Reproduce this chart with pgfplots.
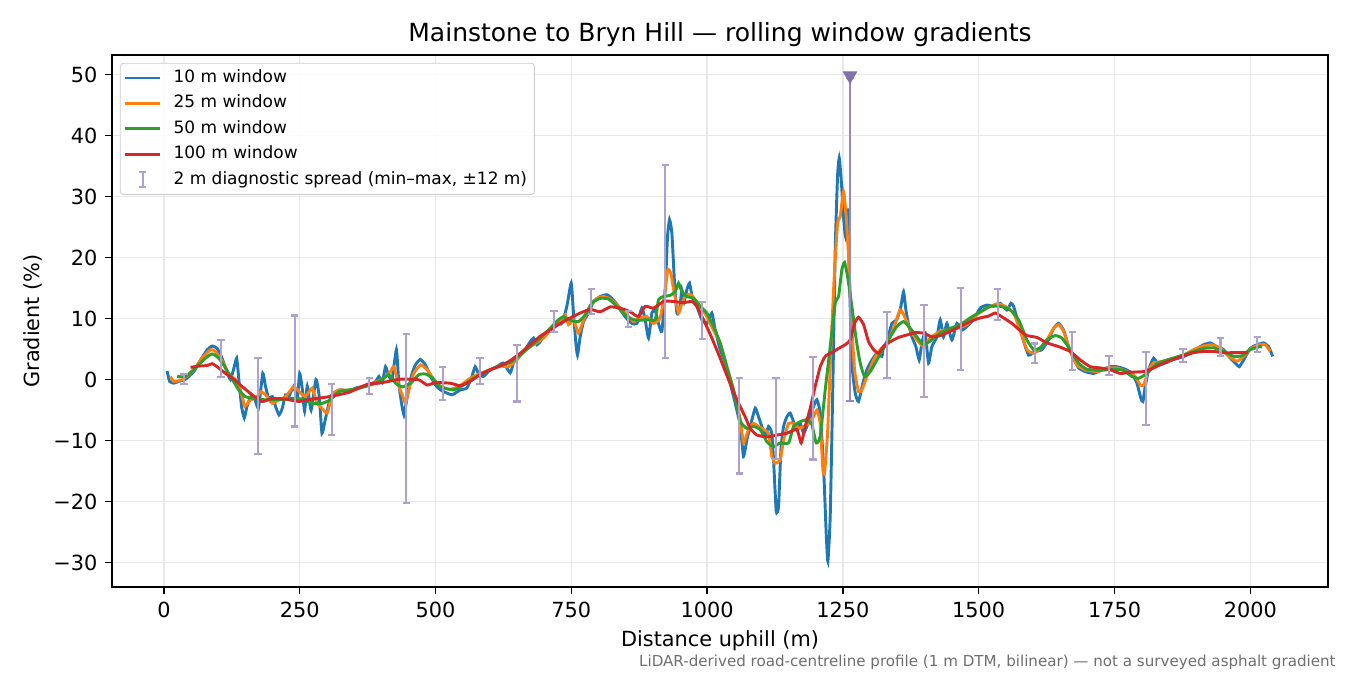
\documentclass[border=0pt]{standalone}
\usepackage{fontspec}
\setmainfont{DejaVu Sans}
\usepackage{pgfplots}
\usepackage{pgfplotstable}
\pgfplotsset{compat=1.18}
\definecolor{cA}{HTML}{1F77B4}
\definecolor{cB}{HTML}{FF7F0E}
\definecolor{cC}{HTML}{2CA02C}
\definecolor{cD}{HTML}{D62728}
\definecolor{ebcol}{RGB}{174,162,205}
\definecolor{ebdark}{RGB}{150,136,190}
\definecolor{mkcol}{RGB}{130,114,172}
\definecolor{footgray}{RGB}{110,110,110}

\pgfplotstableread{
x lo hi
37 -0.8 0.9
105 0.4 6.5
173 -12.2 3.5
241 -7.7 10.5
309 -9.1 -0.7
378 -2.4 0.2
446 -20.3 7.5
513 -3.4 2.0
582 -0.8 3.5
650 -3.6 5.6
718 7.8 11.3
787 10.8 14.8
855 8.6 11.3
923 3.6 35.2
991 6.6 12.7
1059 -15.4 0.3
1127 -13.0 0.3
1195 -13.1 3.7
1263 -3.5 49.5
1331 0.3 11.1
1399 -2.9 12.2
1467 1.5 15.0
1535 9.7 14.8
1603 2.7 5.9
1672 1.5 7.8
1740 0.8 3.9
1808 -7.5 4.5
1876 2.9 5.0
1945 3.8 6.8
2013 4.5 7.0
}\spread

\begin{document}
\begin{tikzpicture}
\begin{axis}[
  name=ax, at={(0,0)}, anchor=south west,
  scale only axis, width=583.7pt, height=255.4pt,
  xmin=-95.5, xmax=2143, ymin=-34, ymax=53.2,
  xtick={0,250,500,750,1000,1250,1500,1750,2000},
  ytick={-30,-20,-10,0,10,20,30,40,50},
  yticklabels={−30,−20,−10,0,10,20,30,40,50},
  /pgf/number format/assume math mode=true,
  /pgf/number format/1000 sep={},
  tick label style={font=\fontsize{10}{12}\selectfont},
  tick align=outside, major tick length=3.5pt,
  xtick pos=bottom, ytick pos=left,
  tick style={black, line width=0.6pt},
  axis line style={black, line width=0.6pt},
  grid=major, grid style={color=black!9, line width=0.6pt},
  legend cell align=left,
  legend image code/.code={\draw[#1, line width=1.4pt] (0cm,0cm) -- (0.6cm,0cm);},
  legend style={at={(0,1)}, anchor=north west, xshift=3.8pt, yshift=-3.8pt,
    font=\fontsize{8.15}{9.6}\selectfont, draw=black!20, fill=white, fill opacity=0.85, text opacity=1,
    rounded corners=1.5pt, inner xsep=1.5pt, inner ysep=1pt, column sep=3.6pt,
    nodes={inner sep=2pt, text height=6.2pt, text depth=2pt}},
]
\addplot[cA, line width=1.4pt, smooth, tension=0.3] coordinates {
(6,1.4)(10.4,-0.3)(18,-0.6)(27.5,-0.3)(40,0.05)(55,1.3)(67.5,3.2)(80,4.9)(89,5.5)(98,5.1)(107,3.5)(116,1.3)(122.5,0)(129,1.9)(134,3.5)(138,0)(143,-4.4)(148,-6.3)(153,-4.4)(160,-2.8)(166,-2.8)(174,-4.7)(182,1.0)(187,-1.1)(193,-3.1)(199.5,-2.8)(205.5,-4.4)(212,-5.8)(218,-4.7)(224,-2.5)(230,-2.8)(239,-1.1)(245.5,-3.1)(250,1.0)(255,-1.7)(259,-5.2)(264,-1.1)(271,-5.0)(280,0)(286,-2.8)(291,-8.8)(297,-6.6)(307,-2.8)(316,-2.0)(328,-1.7)(340.5,-2.0)(353,-1.4)(365,-1.15)(377,-0.9)(390,-0.3)(396,0.5)(402,-0.5)(408,2.1)(413,0.8)(420,0)(428,4.9)(432.5,-0.6)(437.5,-3.9)(442,-5.8)(446,-3.9)(451,-1.2)(457,1.0)(463,2.4)(472,3.3)(481.5,2.4)(491,0.5)(500,-0.9)(509,-1.7)(530,-2.5)(545.4,-1.7)(557.7,-1.4)(567,0.5)(573,2.1)(579,1.0)(588,0.5)(600.7,1.6)(613,2.1)(625,2.7)(637.5,1.1)(643.6,2.7)(652.8,3.8)(665,4.9)(674.3,6.2)(680.4,6.8)(686.6,5.7)(692.7,6.2)(702,7.6)(711,8.1)(720.3,9.0)(732.6,9.2)(741.8,12.0)(749.8,15.8)(754,10.9)(758.4,6.0)(761.4,4.0)(766.3,7.0)(772.5,9.5)(781.7,10.9)(790.9,12.8)(803,13.6)(815.4,13.9)(824.6,13.3)(837,12.0)(849,10.3)(861.5,9.2)(870.7,9.2)(879.9,11.7)(886,9.8)(892.1,6.8)(898.3,10.9)(904.4,11.4)(910.5,9.2)(916.7,7.9)(922.8,14.7)(927.1,23.4)(930.8,26.2)(935.1,24.0)(940,15.8)(944.3,10.9)(949.2,11.4)(953.5,14.7)(957.8,12.8)(962.7,14.7)(967.6,15.8)(972.5,13.6)(981.1,12.0)(990.3,9.8)(999.5,9.2)(1008.7,10.9)(1014.9,8.1)(1024,4.9)(1033.3,2.7)(1042.5,-0.6)(1051.7,-3.9)(1060.9,-7.5)(1067,-12.6)(1073,-9.9)(1079.3,-7.7)(1088.5,-4.7)(1094.6,-6.1)(1100.8,-7.7)(1107,-9.3)(1113,-7.7)(1119,-8.8)(1122.3,-13.2)(1127.2,-21.6)(1131.5,-20.8)(1135.8,-11.5)(1140.7,-7.7)(1146.8,-6.1)(1153,-5.5)(1159,-6.9)(1165.2,-8.2)(1171.4,-7.2)(1177.5,-8.8)(1183.6,-7.7)(1189.8,-6.1)(1195.9,-4.4)(1202,-3.3)(1208.2,-5.5)(1214.3,-14.3)(1219.2,-25.2)(1222.3,-29.8)(1226.6,-22.4)(1231.5,-0.6)(1235.8,21.3)(1240.1,33.3)(1243.2,36.3)(1246.8,32.8)(1251.1,26.7)(1254.8,23.4)(1258.5,27.8)(1262.2,15.8)(1266.5,2.7)(1272.6,-2.2)(1278.7,-3.6)(1286.7,-0.6)(1294.1,1.6)(1303.3,3.2)(1312.5,4.3)(1321.7,3.8)(1324.8,5.4)(1331,6.2)(1340.1,9.2)(1349.3,9.8)(1356.7,12.0)(1361.6,14.4)(1365.9,11.4)(1370.8,9.0)(1377,7.0)(1384.3,5.4)(1390.4,3.2)(1395.3,6.0)(1401.5,7.6)(1407.6,2.7)(1413.7,5.4)(1423,7.0)(1429.1,9.8)(1435.2,7.0)(1441.4,9.2)(1450.6,6.5)(1459.8,9.2)(1469,8.1)(1478.2,8.7)(1490.5,9.8)(1502.7,11.7)(1515,12.2)(1527.3,12.0)(1539.5,12.5)(1551.8,11.4)(1559.2,12.5)(1564.1,12.0)(1573.3,9.2)(1582.5,6.3)(1591.7,4.0)(1604,4.6)(1616.3,4.9)(1628.6,6.5)(1637.8,8.4)(1647,9.2)(1656.2,8.1)(1665.4,5.4)(1674.6,3.5)(1683.8,1.9)(1696,1.3)(1711.4,1.0)(1726.8,1.6)(1742.1,2.1)(1754.4,2.1)(1769.7,1.7)(1782,1.0)(1791.2,-0.6)(1798.5,-3.1)(1802.2,-3.6)(1806.5,-1.1)(1812.7,1.6)(1821.9,3.5)(1831,2.4)(1843.3,2.7)(1855.6,3.2)(1867.9,3.5)(1883.2,4.0)(1898.6,4.9)(1913.9,5.7)(1926.2,6.0)(1938.4,5.4)(1950.7,4.9)(1963,3.5)(1972.2,2.7)(1979.6,2.1)(1987.5,3.2)(1999.8,5.1)(2012,5.7)(2024.4,6.0)(2033.6,5.4)(2041,3.8)
};
\addlegendentry{10 m window}
\addplot[cB, line width=1.4pt, smooth, tension=0.3] coordinates {
(12,0.5)(18,-0.3)(34,0)(52,1.3)(70.5,3.5)(86,4.9)(95,4.6)(107.5,3.0)(120,0.8)(132,0)(141,-1.7)(149,-4.4)(159.5,-3.3)(169,-3.1)(178,-2.0)(187,-2.5)(199.5,-3.9)(212,-3.3)(224,-2.8)(239,-1.2)(251.5,-2.2)(261,-2.8)(273,-1.4)(282,-3.9)(291,-4.7)(300.7,-5.5)(310,-2.5)(322,-1.7)(340.5,-1.8)(359,-1.4)(377,-0.9)(392.7,-0.3)(405,0.2)(417,1.3)(423.4,2.1)(432.6,-1.1)(440,-2.8)(445,-3.9)(451,-1.7)(460,1.0)(472.5,2.4)(484.8,1.6)(497,0)(509,-1.1)(527,-1.6)(545.4,-1.0)(563.8,0.2)(582.2,1.0)(600.7,1.6)(619,2.2)(634.4,2.1)(649.7,3.2)(665,4.9)(680.4,5.7)(698.8,6.8)(717.3,8.7)(729.5,9.5)(738.7,10.6)(744.9,9.0)(754,9.8)(763.3,7.6)(772.5,9.8)(784.7,12.0)(797,13.3)(809.3,13.6)(821.6,13.2)(837,12.0)(852.2,10.6)(864.5,9.5)(876.8,10.1)(889,10.3)(901.3,9.2)(913.6,10.1)(922.8,14.7)(927.7,18.0)(933.3,17.4)(939.4,14.2)(947.4,10.9)(953.5,12.5)(959.6,13.6)(968.8,14.0)(978,13.1)(987.3,12.0)(999.5,10.3)(1011.8,8.1)(1024,6.0)(1036.3,2.1)(1048.6,-1.7)(1060.9,-6.5)(1067,-10.4)(1076,-8.2)(1085.4,-7.2)(1094.6,-7.7)(1104,-8.2)(1113,-8.8)(1119.2,-12.6)(1125.3,-13.7)(1134.5,-13.2)(1140.7,-9.9)(1149.9,-7.2)(1159,-7.2)(1168.3,-8.0)(1177.5,-7.7)(1186.7,-7.2)(1195.9,-6.1)(1202,-5.0)(1208.2,-7.2)(1213.1,-14.8)(1216.2,-15.3)(1221.7,-8.8)(1227.8,4.9)(1234,16.9)(1240.1,25.6)(1245,26.7)(1251.1,30.8)(1256,26.7)(1260.3,20.2)(1265.2,10.3)(1271.4,1.6)(1278.7,-2.0)(1284.9,-1.7)(1294.1,0.5)(1306.4,3.2)(1318.6,4.9)(1330.9,6.0)(1343.2,8.4)(1355.4,11.4)(1364.6,10.1)(1373.9,8.1)(1386.1,6.5)(1398.4,5.4)(1410.7,6.8)(1423,7.6)(1435.2,8.1)(1447.5,8.1)(1459.8,8.4)(1478.2,9.0)(1496.6,10.6)(1515,11.7)(1533.4,12.4)(1548.7,12.0)(1564.1,10.9)(1576.4,8.0)(1588.7,4.9)(1601,4.3)(1613.2,5.1)(1625.5,6.5)(1637.8,8.4)(1647,9.0)(1656.2,7.9)(1668.4,4.6)(1680.7,2.4)(1696,1.6)(1717.5,1.3)(1736,1.9)(1754.4,1.9)(1772.8,1.3)(1788,0.5)(1797.3,-0.9)(1803.5,-0.9)(1812.7,1.6)(1821.9,2.7)(1840.3,3.0)(1858.7,3.5)(1877,4.0)(1895.5,4.9)(1913.9,5.5)(1929.2,5.7)(1944.6,5.1)(1960,3.8)(1975.3,3.0)(1987.5,3.8)(1999.8,5.0)(2015.2,5.7)(2027.4,5.7)(2036.6,4.6)
};
\addlegendentry{25 m window}
\addplot[cC, line width=1.4pt, smooth, tension=0.3] coordinates {
(24.5,0.5)(40,0.5)(58,1.9)(76.5,3.5)(89,4.2)(101,3.5)(113.5,1.9)(126,0)(138,-1.7)(150,-2.8)(165.6,-3.1)(181,-3.3)(199.5,-3.3)(218,-3.3)(236,-3.1)(254.6,-3.2)(273,-3.9)(291.5,-3.9)(306.8,-3.3)(322,-2.0)(346.7,-1.6)(371,-1.15)(389.7,-0.6)(402,0.05)(414,0.8)(426.5,-0.6)(438.7,-1.2)(454,-0.6)(469.4,0.8)(481.7,0.9)(494,0.3)(509,-1.2)(533,-1.7)(551.6,-0.9)(570,0.2)(588.4,1.1)(613,2.1)(637.5,2.8)(656,4.0)(674.3,5.4)(692.7,6.8)(711,8.4)(726.4,9.8)(735.7,10.3)(748,9.7)(763.3,9.5)(775.5,10.6)(787.8,12.5)(803,13.3)(818.5,13.2)(833.8,12.0)(852.2,10.3)(870.7,9.7)(889,9.8)(904.4,9.8)(910.5,13.1)(919.8,13.6)(932,13.8)(941.2,14.4)(947.4,15.8)(953.5,14.4)(962.7,13.6)(975,13.3)(987.3,12.0)(999.5,10.9)(1011.8,8.7)(1024,6.0)(1036.3,2.1)(1048.6,-1.7)(1060.9,-6.8)(1073,-8.0)(1085.4,-7.7)(1097.7,-8.2)(1110,-10.2)(1122.3,-11.0)(1134.5,-10.4)(1150,-10.4)(1159,-7.7)(1171.4,-6.9)(1183.6,-6.6)(1192.8,-7.4)(1200.8,-10.4)(1208.2,-9.3)(1217.4,-1.7)(1226.6,5.4)(1235.8,12.5)(1242,13.6)(1248,18.0)(1253,19.2)(1258.5,16.9)(1266.5,12.0)(1274.5,6.5)(1281.8,2.7)(1289.8,0.5)(1300.2,1.3)(1312.5,3.2)(1324.8,5.1)(1337,7.0)(1349.3,8.7)(1361.6,9.5)(1373.9,8.4)(1386.1,7.0)(1398.4,5.7)(1413.7,6.5)(1429.1,7.6)(1447.5,8.4)(1466,9.0)(1484.3,10.1)(1502.7,11.1)(1521,12.0)(1539.5,12.0)(1558,11.4)(1573.3,9.8)(1588.6,6.5)(1601,4.9)(1613.2,5.2)(1625.5,6.5)(1640.8,7.2)(1653,6.8)(1668.4,4.9)(1683.8,2.7)(1699,1.7)(1723.7,1.5)(1748.2,1.7)(1766.6,1.5)(1782,0.5)(1794.2,0.2)(1809.6,1.0)(1828,2.6)(1846.4,3.2)(1864.8,3.7)(1889.4,4.4)(1913.9,5.1)(1932.3,5.2)(1950.7,4.6)(1969.1,3.8)(1984.5,3.9)(1999.8,4.9)(2018.2,5.4)(2021.3,5.3)
};
\addlegendentry{50 m window}
\addplot[cD, line width=1.4pt, smooth, tension=0.3] coordinates {
(49,2.0)(64.5,2.2)(80,2.3)(89,2.6)(101,1.9)(113.5,1.0)(129,0.05)(144,-1.15)(162.5,-2.5)(181,-3.6)(199.5,-3.1)(224,-3.2)(248.5,-3.6)(273,-3.2)(297.6,-2.9)(322,-2.5)(340.5,-2.1)(359,-1.4)(377,-0.7)(395.8,-0.6)(414,-0.3)(432.6,0.05)(451,0.05)(469.4,-0.05)(484.8,-0.9)(500,-0.5)(527,-0.6)(545.4,-1.0)(563.8,-0.3)(582.2,0.8)(600.7,1.6)(619,2.2)(637.5,3.1)(656,4.3)(674.3,5.7)(692.7,7.1)(711,8.1)(729.5,9.2)(748,10.1)(766.3,10.9)(784.7,11.5)(803,11.1)(821.6,11.9)(840,11.7)(858.4,11.1)(873.7,10.3)(886,12.0)(901.3,11.7)(919.8,12.8)(938.2,12.8)(956.6,12.6)(972,12.8)(981.1,12.0)(993.4,9.8)(1008.7,6.8)(1024,3.5)(1039.4,0)(1054.8,-3.3)(1070,-6.1)(1079.3,-8.0)(1091.6,-9.1)(1110,-9.4)(1128.4,-9.1)(1146.8,-8.8)(1165.2,-8.2)(1173.2,-10.4)(1180.6,-7.7)(1189.8,-4.7)(1199,-1.1)(1208.2,2.1)(1217.4,3.8)(1229.6,4.4)(1242,5.1)(1254.2,5.7)(1263.4,6.5)(1271.4,9.2)(1278.7,10.2)(1288,9.0)(1297.2,6.2)(1306.4,4.9)(1315.6,4.3)(1324.8,5.4)(1337,6.2)(1352.4,6.9)(1367.7,7.3)(1383,7.7)(1398.4,7.6)(1413.7,7.0)(1429.1,7.2)(1447.5,7.9)(1466,8.7)(1484.3,9.5)(1502.7,10.1)(1518,10.4)(1530.3,10.9)(1545.7,10.1)(1561,9.2)(1576.4,8.0)(1588.7,7.2)(1607,6.9)(1625.5,6.0)(1647,5.4)(1668.4,4.6)(1686.9,3.2)(1705.3,2.1)(1723.7,1.9)(1742.1,1.6)(1760.5,1.0)(1778.9,1.2)(1803.5,1.3)(1821.9,1.9)(1840.3,2.7)(1858.7,3.3)(1877,3.9)(1895.5,4.4)(1913.9,4.6)(1932.3,4.6)(1950.7,4.4)(1969.1,4.4)(1987.5,4.4)(1995,4.5)
};
\addlegendentry{100 m window}
\addplot[draw=none, mark=none,
  legend image code/.code={
    \draw[draw=ebcol, line width=1pt] (0.3cm,-0.13cm) -- (0.3cm,0.13cm)
      (0.245cm,-0.13cm) -- (0.355cm,-0.13cm) (0.245cm,0.13cm) -- (0.355cm,0.13cm);},
  error bars/.cd, y dir=both, y explicit, error mark=none,
  error bar style={draw=ebcol, line width=1pt}]
  table[x=x, y=lo, y error plus expr=\thisrow{hi}-\thisrow{lo}, y error minus expr=0] {\spread};
\addlegendentry{2 m diagnostic spread (min–max, ±12 m)}
\addplot[only marks, mark=-, mark size=1.75pt, forget plot, mark options={draw=ebcol, line width=1pt}] table[x=x, y=lo] {\spread};
\addplot[only marks, mark=-, mark size=1.75pt, forget plot, mark options={draw=ebcol, line width=1pt}] table[x=x, y=hi] {\spread};
\addplot[ebdark, line width=1pt, forget plot] coordinates {(1263,-3.5)(1263,49.5)};
\addplot[only marks, mark=-, mark size=1.75pt, forget plot, mark options={draw=ebdark, line width=1pt}] coordinates {(1263,-3.5)};
\addplot[only marks, mark=triangle*, mark size=3.7pt, forget plot,
  mark options={rotate=180, fill=mkcol, draw=mkcol, line width=0.4pt}] coordinates {(1263,49.8)};
\end{axis}
\node[font=\fontsize{12}{14}\selectfont, anchor=base] at ([yshift=6.3pt]ax.north) {Mainstone to Bryn Hill — rolling window gradients};
\node[font=\fontsize{10}{12}\selectfont, anchor=base] at ([yshift=-28.5pt]ax.south) {Distance uphill (m)};
\node[font=\fontsize{10}{12}\selectfont, rotate=90, anchor=center] at ([xshift=-38pt]ax.west) {Gradient (\%)};
\node[font=\fontsize{7.25}{8}\selectfont, text=footgray, anchor=base east, inner sep=0pt] at ([xshift=3.8pt, yshift=-38pt]ax.south east) {LiDAR-derived road-centreline profile (1 m DTM, bilinear) — not a surveyed asphalt gradient};
\pgfresetboundingbox
\path (-53.76pt,-42.24pt) rectangle (594.24pt,281.76pt);
\end{tikzpicture}
\end{document}
